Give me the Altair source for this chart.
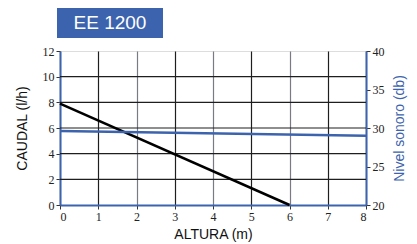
import altair as alt
import pandas as pd

altura_q = [0, 6]
caudal = [7.9, 0]
altura_n = [0, 8]
nivel = [29.6, 29.0]
grid_caudal = [2, 4, 6, 8, 10]
title_text = ["EE 1200"]

BLUE = "#3c63ad"
df_q = pd.DataFrame({"altura": altura_q, "caudal": caudal})
df_n = pd.DataFrame({"altura": altura_n, "nivel": nivel})
df_g = pd.DataFrame({"caudal": grid_caudal})

xscale = alt.Scale(domain=[0, 8], nice=False)
yscale = alt.Scale(domain=[0, 12], nice=False)
xaxis = alt.Axis(
    title="ALTURA (m)", values=list(range(0, 9)), grid=True, labelOverlap=False,
    gridColor={"condition": {"test": "datum.value % 2 == 0", "value": "#7a7a84"}, "value": "#1e1e1e"},
    gridWidth=1.2, gridOpacity=1, domainColor=BLUE, domainWidth=2, tickColor="#333333", tickSize=4,
    labelFontSize=12, labelColor="#222222", titleFontSize=14, titleFontWeight="normal",
    titleColor="#111111", labelFont="Liberation Sans Narrow", titlePadding=5,
)
yaxis = alt.Axis(title="CAUDAL (l/h)", values=list(range(0, 13, 2)), grid=False,
                 labelOverlap=False, domainColor=BLUE, domainWidth=2,
                 tickColor="#333333", tickSize=4, labelFontSize=12, labelColor="#222222",
                 titleFontSize=14, titleFontWeight="normal", titleColor="#111111",
                 labelFont="Liberation Sans Narrow", titlePadding=13)

grid_h = alt.Chart(df_g).mark_rule(color="#1e1e1e", strokeWidth=1.2).encode(
    y=alt.Y("caudal:Q", scale=yscale, axis=yaxis)
)

line_q = alt.Chart(df_q).mark_line(color="#000000", strokeWidth=2.5).encode(
    x=alt.X("altura:Q", scale=xscale, axis=xaxis),
    y=alt.Y("caudal:Q", scale=yscale, axis=yaxis),
)

line_n = alt.Chart(df_n).mark_line(color=BLUE, strokeWidth=2.5).encode(
    x=alt.X("altura:Q", scale=xscale, axis=xaxis),
    y=alt.Y("nivel:Q", scale=alt.Scale(domain=[20, 40], nice=False),
            axis=alt.Axis(title="Nivel sonoro (db)", orient="right", values=list(range(20, 41, 5)),
                          grid=False, labelOverlap=False, domainColor=BLUE, domainWidth=2,
                          tickColor="#333333", titleAngle=270, titleX=40, titleY=77,
                          titleAlign="center", titleBaseline="bottom",
                          tickSize=4, labelFontSize=12, labelColor="#222222", titleFontSize=14,
                          titleFontWeight="normal", titleColor=BLUE,
                          labelFont="Liberation Sans Narrow", titlePadding=8)),
)

box = alt.Chart(pd.DataFrame({"t": title_text})).mark_rect(fill=BLUE).encode(
    x=alt.value(-3), x2=alt.value(103), y=alt.value(-44), y2=alt.value(-13)
)
box_text = alt.Chart(pd.DataFrame({"t": title_text})).mark_text(
    color="white", fontSize=19, font="Liberation Sans", align="center", baseline="middle"
).encode(x=alt.value(50), y=alt.value(-28), text="t:N")

left = alt.layer(grid_h, line_q)
chart = alt.layer(left, line_n, box, box_text).resolve_scale(y="independent").properties(
    width=306, height=154,
    autosize=alt.AutoSizeParams(type="none"),
    padding={"left": 52, "top": 43, "right": 43, "bottom": 39},
).configure_view(stroke=BLUE, strokeWidth=2, fill="#d7dbec").configure(background="white")

chart.save("out.html", embed_options={"renderer": "svg", "actions": False})
